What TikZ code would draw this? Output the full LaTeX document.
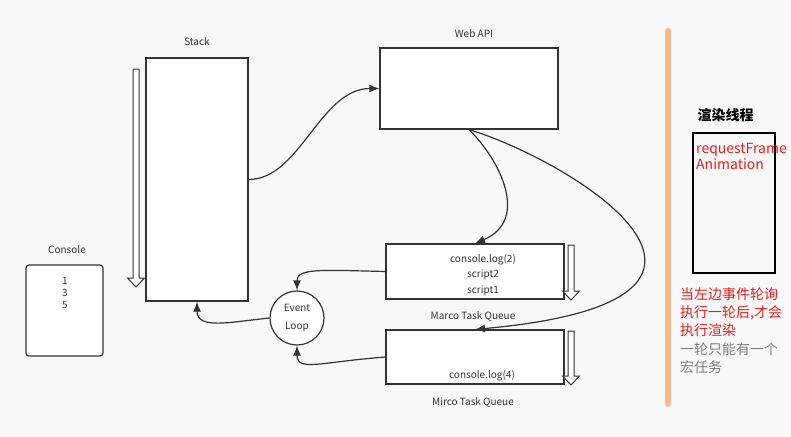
\documentclass[tikz,border=0pt]{standalone}
\usepackage{fontspec}
\setmainfont{Noto Sans CJK SC}
\usetikzlibrary{arrows.meta}
\definecolor{bgc}{HTML}{F8F8F8}
\definecolor{boxc}{HTML}{333333}
\definecolor{txtc}{HTML}{333333}
\definecolor{redc}{HTML}{E0201A}
\definecolor{grayc}{HTML}{808080}
\definecolor{sepc}{HTML}{F8B88C}
% hollow arrow: x, top, tip
\newcommand{\hollowdown}[3]{%
  \draw[boxc,line width=1pt,fill=white] (#1-3,#2) -- (#1+3,#2) -- (#1+3,#3-9) -- (#1+8.5,#3-9)
    -- (#1,#3) -- (#1-8.5,#3-9) -- (#1-3,#3-9) -- cycle;}

\begin{document}
\begin{tikzpicture}[x=1pt,y=-1pt,
    box/.style={draw=boxc,fill=white,line width=1.2pt,inner sep=0pt},
    lbl/.style={font=\fontsize{10}{12}\selectfont,text=txtc},
    flow/.style={draw=boxc,line width=1.2pt,-{Latex[length=10pt,width=8pt]}}]
  \fill[bgc] (0,0) rectangle (791,436);
  \useasboundingbox (0,0) rectangle (791,436);

  % console
  \node[lbl] (consolelbl) at (67,250) {Console};
  \node[box,rounded corners=3pt,minimum width=77pt,minimum height=91pt] (console) at (64.5,310.5) {};
  \node[lbl,align=center] (consoletxt) at (65,293) {1\\3\\5};

  % stack
  \node[lbl] (stacklbl) at (197,42) {Stack};
  \node[box,minimum width=102pt,minimum height=243pt] (stack) at (197,179.5) {};
  \hollowdown{136}{69}{287}

  % web api
  \node[lbl] (webapilbl) at (474,34) {Web API};
  \node[box,minimum width=178pt,minimum height=81pt] (webapi) at (469,88.5) {};

  % queues
  \node[box,minimum width=178pt,minimum height=55pt] (marco) at (475,271.5) {};
  \node[lbl,align=center,font=\fontsize{10}{15.5}\selectfont] (marcotxt) at (483,275) {console.log(2)\\script2\\script1};
  \node[lbl] (marcolbl) at (473,316) {Marco Task Queue};
  \hollowdown{571}{245}{300}

  \node[box,minimum width=178pt,minimum height=54pt] (micro) at (475,357) {};
  \node[lbl] (microtxt) at (482,376) {console.log(4)};
  \node[lbl] (microlbl) at (473,402) {Mirco Task Queue};
  \hollowdown{571}{331}{385}

  % event loop
  \node[box,circle,minimum size=54pt,lbl,align=center,font=\fontsize{10}{18}\selectfont] (loop) at (297,318) {Event\\Loop};

  \draw[flow] (stack.east) .. controls (300,179.5) and (320,88.5) .. (webapi.west);
  \draw[flow] (webapi.south) .. controls (500,160) and (530,220) .. (marco.north);
  \draw[flow] (webapi.south) .. controls (570,160) and (800,300) .. (micro.north);
  \draw[flow] (marco.west) .. controls (320,270) and (297,268) .. (loop.north);
  \draw[flow] (micro.west) .. controls (320,362) and (297,372) .. (loop.south);
  \draw[flow] (loop.west) .. controls (230,322) and (197,330) .. (stack.south);

  % render thread
  \draw[sepc,line width=6pt,line cap=round] (668,31) -- (668,404);
  \node[anchor=west,font=\fontsize{14}{16}\selectfont\bfseries] (renderlbl) at (694,115) {渲染线程};
  \node[draw=black,line width=1.6pt,minimum width=82pt,minimum height=140pt] (render) at (734,203) {};
  \node[anchor=west,inner sep=0pt,align=left,text=redc,font=\fontsize{14}{16}\selectfont] (raf) at (696,156) {requestFrame\\Animation};
  \node[anchor=west,inner sep=0pt,align=left,font=\fontsize{14}{18.3}\selectfont] (note) at (680,330.5)
    {\textcolor{redc}{当左边事件轮询}\\\textcolor{redc}{执行一轮后,才会}\\\textcolor{redc}{执行渲染}\\\textcolor{grayc}{一轮只能有一个}\\\textcolor{grayc}{宏任务}};
\end{tikzpicture}
\end{document}
